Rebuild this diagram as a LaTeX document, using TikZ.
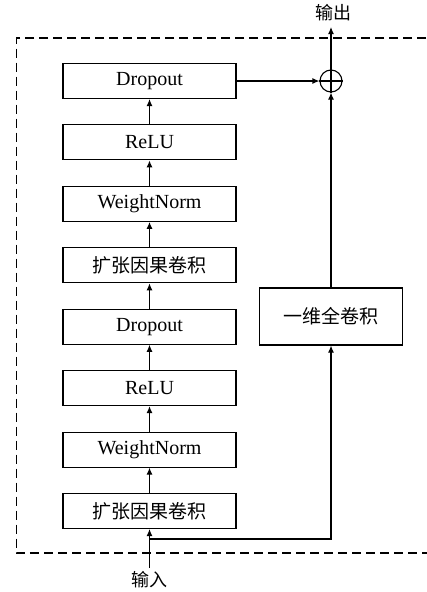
\documentclass[tikz,border=0pt]{standalone}
\usepackage{fontspec}
\setmainfont{Liberation Serif}
\newfontfamily\cjk{Noto Sans CJK SC}
\usetikzlibrary{arrows.meta}
\begin{document}
\begin{tikzpicture}[x=1pt,y=-1pt,
  layer/.style={draw,line width=1.1pt,minimum width=173pt,minimum height=35pt,inner sep=0pt,font=\fontsize{20}{22}\selectfont},
  conv/.style={draw,line width=1.1pt,minimum width=143pt,minimum height=57pt,inner sep=0pt,font=\fontsize{19}{22}\selectfont},
  lbl/.style={font=\fontsize{18}{22}\selectfont},
  conn/.style={line width=1.1pt,-{Latex[length=7pt,width=6pt]}},
  plain/.style={line width=1.1pt}]
\useasboundingbox (0,0) rectangle (427,592);
\draw[line width=1.2pt,dash pattern=on 9pt off 5pt] (440,38) -- (16.5,38) -- (16.5,553) -- (440,553);
\node[layer] (d1) at (149.5,81) {Dropout};
\node[layer] (r1) at (149.5,142.4) {ReLU};
\node[layer] (w1) at (149.5,203.9) {WeightNorm};
\node[layer,font=\fontsize{19}{22}\selectfont] (k1) at (149.5,265.3) {\cjk 扩张因果卷积};
\node[layer] (d2) at (149.5,326.7) {Dropout};
\node[layer] (r2) at (149.5,388.1) {ReLU};
\node[layer] (w2) at (149.5,449.6) {WeightNorm};
\node[layer,font=\fontsize{19}{22}\selectfont] (k2) at (149.5,511) {\cjk 扩张因果卷积};
\node[conv] (c1) at (331,316.5) {\cjk 一维全卷积};
\node[draw,circle,line width=1.1pt,minimum size=22pt,inner sep=0pt] (sum) at (331,81) {};
\draw[plain] (sum.north) -- (sum.south) (sum.west) -- (sum.east);
\node[lbl] (out) at (333,13) {\cjk 输出};
\node[lbl] (in) at (149.5,580) {\cjk 输入};
\coordinate (top) at (331,27);
\coordinate (split) at (149.5,539);
\coordinate (corner) at (331,539);
\draw[conn] (k2) -- (w2);
\draw[conn] (w2) -- (r2);
\draw[conn] (r2) -- (d2);
\draw[conn] (d2) -- (k1);
\draw[conn] (k1) -- (w1);
\draw[conn] (w1) -- (r1);
\draw[conn] (r1) -- (d1);
\draw[conn] (in.north) -- (k2.south);
\draw[conn] (split) -- (corner) -- (c1.south);
\draw[conn] (c1.north) -- (sum.south);
\draw[conn] (d1.east) -- (sum.west);
\draw[conn] (sum.north) -- (top);
\end{tikzpicture}
\end{document}
